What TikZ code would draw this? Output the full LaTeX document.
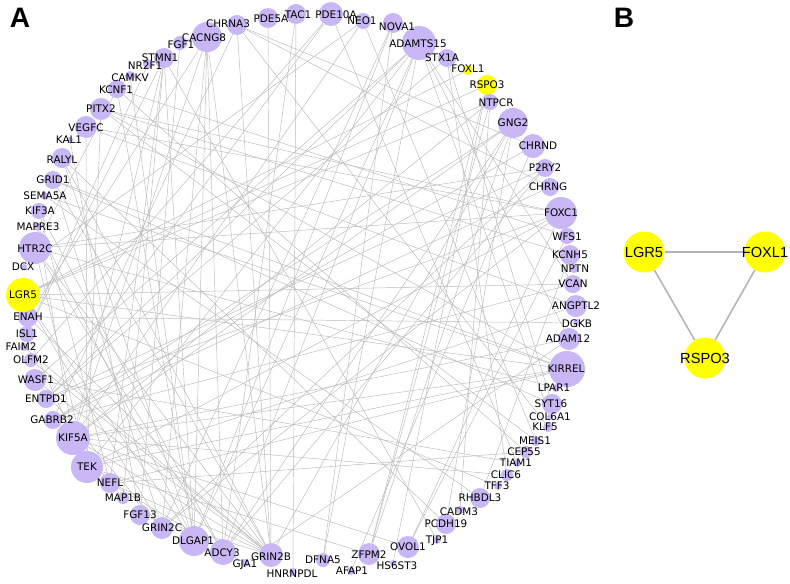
\documentclass[tikz,border=0pt]{standalone}
\usepackage{fontspec}
\setmainfont{Liberation Sans}
\newfontfamily\genefont{DejaVu Sans}
\usetikzlibrary{backgrounds}
\definecolor{colL}{RGB}{200,182,245}
\definecolor{colY}{RGB}{255,255,0}
\colorlet{ecol}{black!27!white}
\pgfdeclarelayer{labels}
\pgfsetlayers{background,main,labels}
\tikzstyle{gene}=[circle, fill=colL, inner sep=0pt]
\tikzstyle{seed}=[gene, fill=colY]
\tikzstyle{lbl}=[inner sep=0pt, font=\genefont\fontsize{8.9}{9}\selectfont]
\tikzstyle{edge}=[line width=0.4pt, ecol]
\tikzstyle{bedge}=[line width=1.3pt, black!30!white]
\tikzstyle{bnode}=[circle, fill=colY, inner sep=0pt, minimum size=41*0.03cm]
\tikzstyle{blbl}=[inner sep=0pt, font=\fontsize{12.5}{13}\selectfont]
% \gene[style]{name}{x}{y}{radius}{label x}{label y}
\newcommand{\gene}[7][gene]{%
  \node[#1, minimum size=#5*0.06cm] (#2) at (#3,#4) {};
  \begin{pgfonlayer}{labels}\node[lbl] (#2-l) at (#6,#7) {#2};\end{pgfonlayer}}

\begin{document}
\begin{tikzpicture}[x=0.03cm, y=-0.03cm]
\useasboundingbox (0,0) rectangle (790,583);
\node[font=\bfseries\fontsize{24}{24}\selectfont] (A) at (20,18) {A};
\node[font=\bfseries\fontsize{24}{24}\selectfont] (B) at (624,18) {B};

% panel A, clockwise from the top
\gene{CHRNA3}{237}{25}{10}{228}{24}
\gene{PDE5A}{268}{18}{10}{271}{19}
\gene{TAC1}{296}{14}{10}{298}{15}
\gene{PDE10A}{331}{14}{12}{336}{15}
\gene{NEO1}{363}{21}{8}{362}{21}
\gene{NOVA1}{393}{23}{10}{397}{27}
\gene{ADAMTS15}{419}{43}{17}{418}{44}
\gene{STX1A}{447}{58}{9}{442}{58}
\gene[seed]{FOXL1}{468}{70}{5}{468}{69}
\gene[seed]{RSPO3}{487}{85}{10}{487}{85}
\gene{NTPCR}{490}{102}{8}{496}{103}
\gene{GNG2}{513}{123}{15}{513}{123}
\gene{CHRND}{533}{146}{12}{538}{146}
\gene{P2RY2}{545}{168}{9}{545}{168}
\gene{CHRNG}{550}{187}{9}{548}{187}
\gene{FOXC1}{561}{213}{16}{561}{213}
\gene{WFS1}{567}{236}{8}{567}{237}
\gene{KCNH5}{570}{255}{10}{570}{255}
\gene{NPTN}{574}{269}{4}{575}{269}
\gene{VCAN}{573}{284}{9}{573}{284}
\gene{ANGPTL2}{576}{306}{11}{576}{306}
\gene{DGKB}{577}{323}{4}{577}{324}
\gene{ADAM12}{569}{339}{11}{568}{339}
\gene{KIRREL}{567}{369}{18}{566}{369}
\gene{LPAR1}{556}{388}{4}{554}{388}
\gene{SYT16}{552}{404}{10}{551}{404}
\gene{COL6A1}{550}{417}{3}{550}{417}
\gene{KLF5}{548}{427}{5}{545}{427}
\gene{MEIS1}{536}{441}{5}{535}{441}
\gene{CEP55}{526}{452}{6}{524}{452}
\gene{TIAM1}{517}{463}{4}{516}{463}
\gene{CLIC6}{507}{475}{6}{506}{475}
\gene{TFF3}{498}{486}{4}{497}{486}
\gene{RHBDL3}{480}{498}{10}{480}{498}
\gene{CADM3}{460}{510}{4}{459}{512}
\gene{PCDH19}{446}{524}{10}{446}{524}
\gene{TJP1}{437}{540}{4}{437}{541}
\gene{OVOL1}{408}{547}{11}{408}{547}
\gene{HS6ST3}{393}{563}{3}{397}{566}
\gene{ZFPM2}{369}{554}{11}{369}{555}
\gene{AFAP1}{351}{571}{4}{352}{571}
\gene{DFNA5}{323}{560}{7}{323}{560}
\gene{HNRNPDL}{293}{572}{4}{292}{574}
\gene{GRIN2B}{271}{555}{12}{271}{557}
\gene{GJA1}{245}{563}{4}{245}{565}
\gene{ADCY3}{223}{552}{13}{222}{553}
\gene{DLGAP1}{194}{541}{15}{193}{541}
\gene{GRIN2C}{162}{528}{11}{162}{528}
\gene{FGF13}{140}{515}{10}{140}{515}
\gene{MAP1B}{123}{498}{6}{123}{498}
\gene{NEFL}{110}{483}{10}{110}{483}
\gene{TEK}{87}{467}{16}{87}{467}
\gene{KIF5A}{73}{438}{17}{73}{438}
\gene{GABRB2}{53}{420}{9}{52}{420}
\gene{ENTPD1}{46}{399}{9}{46}{399}
\gene{WASF1}{35}{380}{11}{36}{380}
\gene{OLFM2}{31}{360}{7}{31}{360}
\gene{FAIM2}{24}{347}{4}{21}{347}
\gene{ISL1}{27}{334}{8}{27}{334}
\gene{ENAH}{28}{317}{10}{28}{317}
\gene[seed]{LGR5}{23}{295}{17}{23}{295}
\gene{DCX}{24}{267}{3}{23}{267}
\gene{HTR2C}{35}{248}{16}{35}{249}
\gene{MAPRE3}{38}{227}{4}{38}{227}
\gene{KIF3A}{39}{211}{8}{40}{211}
\gene{SEMA5A}{45}{196}{4}{45}{196}
\gene{GRID1}{53}{180}{9}{53}{180}
\gene{RALYL}{62}{158}{10}{62}{160}
\gene{KAL1}{70}{140}{3}{69}{140}
\gene{VEGFC}{86}{127}{11}{86}{128}
\gene{PITX2}{101}{109}{11}{101}{109}
\gene{KCNF1}{117}{89}{9}{116}{90}
\gene{CAMKV}{130}{76}{5}{130}{78}
\gene{NR2F1}{148}{64}{5}{145}{66}
\gene{STMN1}{164}{58}{10}{160}{58}
\gene{FGF1}{180}{43}{7}{181}{45}
\gene{CACNG8}{207}{37}{15}{204}{38}

\begin{scope}[on background layer]
\draw[edge]
 (LGR5)edge(RSPO3) (LGR5)edge(FOXL1) (LGR5)edge(VCAN) (LGR5)edge(NTPCR) (LGR5)edge(KIRREL) (LGR5)edge(DLGAP1) (LGR5)edge(GRIN2C) (LGR5)edge(TFF3)
 (ENAH)edge(DGKB) (ENAH)edge(GRIN2B) (ENAH)edge(CACNG8)
 (HTR2C)edge(P2RY2) (HTR2C)edge(FOXC1) (HTR2C)edge(GRIN2B) (HTR2C)edge(ADCY3) (HTR2C)edge(KCNF1) (HTR2C)edge(TEK) (HTR2C)edge(LPAR1)
 (KIF5A)edge(KIRREL) (KIF5A)edge(GRIN2B) (KIF5A)edge(CACNG8) (KIF5A)edge(STMN1) (KIF5A)edge(GNG2) (KIF5A)edge(CLIC6) (KIF5A)edge(NEO1) (KIF5A)edge(MAPRE3) (KIF5A)edge(ADAM12) (KIF5A)edge(OVOL1) (KIF5A)edge(NTPCR)
 (TEK)edge(KIRREL) (TEK)edge(ANGPTL2) (TEK)edge(VEGFC) (TEK)edge(ADAMTS15) (TEK)edge(PITX2) (TEK)edge(FOXC1) (TEK)edge(ZFPM2) (TEK)edge(ISL1)
 (KIRREL)edge(NEFL) (KIRREL)edge(GRID1) (KIRREL)edge(SEMA5A) (KIRREL)edge(PITX2)
 (ADAMTS15)edge(DLGAP1) (ADAMTS15)edge(ADCY3) (ADAMTS15)edge(WASF1) (ADAMTS15)edge(ENTPD1) (ADAMTS15)edge(COL6A1) (ADAMTS15)edge(VCAN) (ADAMTS15)edge(ADAM12) (ADAMTS15)edge(DFNA5)
 (FOXC1)edge(GRIN2C) (FOXC1)edge(ENTPD1) (FOXC1)edge(PITX2) (FOXC1)edge(VEGFC) (FOXC1)edge(OVOL1)
 (GNG2)edge(ADCY3) (GNG2)edge(ZFPM2) (GNG2)edge(GABRB2) (GNG2)edge(GRIN2B) (GNG2)edge(PCDH19)
 (CACNG8)edge(GRIN2B) (CACNG8)edge(GRIN2C) (CACNG8)edge(DLGAP1) (CACNG8)edge(ADCY3)
 (DLGAP1)edge(NOVA1) (DLGAP1)edge(STMN1) (DLGAP1)edge(KCNF1) (DLGAP1)edge(CAMKV) (DLGAP1)edge(MAPRE3) (DLGAP1)edge(RALYL)
 (ADCY3)edge(P2RY2) (ADCY3)edge(TAC1) (ADCY3)edge(KIF3A)
 (GRIN2B)edge(PDE5A) (GRIN2B)edge(CHRNA3) (GRIN2B)edge(GRID1) (GRIN2B)edge(RALYL) (GRIN2B)edge(NEFL) (GRIN2B)edge(OLFM2) (GRIN2B)edge(WASF1) (GRIN2B)edge(FGF13)
 (GRIN2C)edge(GRID1) (GRIN2C)edge(WASF1) (GRIN2C)edge(NOVA1) (GRIN2C)edge(P2RY2)
 (NEFL)edge(STMN1) (NEFL)edge(KIF3A) (NEFL)edge(CEP55) (NEFL)edge(GJA1)
 (CHRNA3)edge(CHRNG) (CHRNA3)edge(CHRND) (CHRNA3)edge(KLF5) (CHRNA3)edge(GABRB2)
 (CHRND)edge(GABRB2) (CHRND)edge(AFAP1) (CHRNG)edge(GABRB2)
 (TAC1)edge(HNRNPDL)
 (PDE10A)edge(OLFM2) (PDE10A)edge(ENTPD1) (PDE10A)edge(TIAM1)
 (NEO1)edge(MEIS1) (NEO1)edge(DCX)
 (NOVA1)edge(DFNA5)
 (STX1A)edge(SYT16) (STX1A)edge(ENTPD1) (STX1A)edge(CLIC6)
 (RSPO3)edge(ZFPM2) (NTPCR)edge(ZFPM2) (NTPCR)edge(CADM3)
 (P2RY2)edge(ENTPD1)
 (WFS1)edge(KCNF1) (WFS1)edge(OVOL1)
 (KCNH5)edge(PITX2) (KCNH5)edge(RHBDL3)
 (VCAN)edge(GABRB2) (ANGPTL2)edge(VEGFC) (ADAM12)edge(GJA1)
 (SYT16)edge(GRID1) (MEIS1)edge(PITX2) (CEP55)edge(KCNF1) (TIAM1)edge(WASF1)
 (RHBDL3)edge(SEMA5A) (PCDH19)edge(RALYL) (TJP1)edge(STMN1)
 (MAP1B)edge(KIF5A) (MAP1B)edge(STMN1) (FGF13)edge(FGF1)
 (ISL1)edge(STMN1) (ISL1)edge(NR2F1) (KAL1)edge(FGF13) (FAIM2)edge(GRIN2B) (HS6ST3)edge(RSPO3)
 ;
\end{scope}

% panel B
\node[bnode] (bLGR5) at (644,252) {};
\node[bnode] (bFOXL1) at (765,252) {};
\node[bnode] (bRSPO3) at (705,358) {};
\node[blbl] (bLGR5-l) at (bLGR5) {LGR5};
\node[blbl] (bFOXL1-l) at (bFOXL1) {FOXL1};
\node[blbl] (bRSPO3-l) at (bRSPO3) {RSPO3};
\begin{scope}[on background layer]
\draw[bedge] (bLGR5)edge(bFOXL1) (bLGR5)edge(bRSPO3) (bFOXL1)edge(bRSPO3);
\end{scope}
\end{tikzpicture}
\end{document}
